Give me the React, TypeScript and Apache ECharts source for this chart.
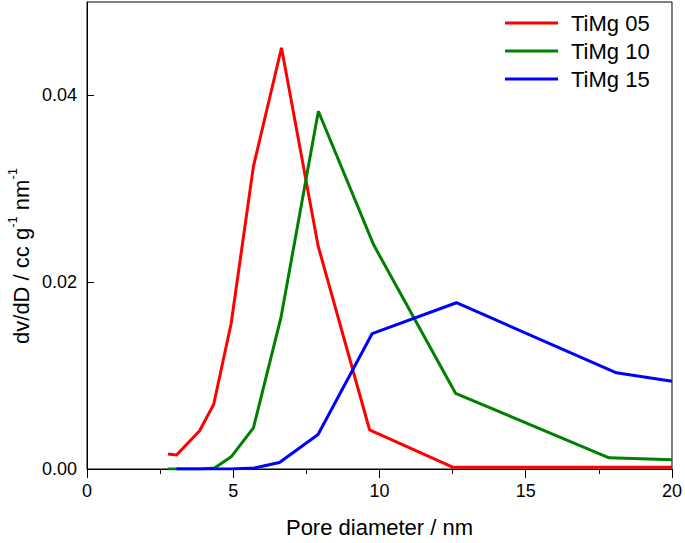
import React, { useEffect, useRef } from "react";
import * as echarts from "echarts";

const seriesNames = ["TiMg 05", "TiMg 10", "TiMg 15"];
const seriesColors = ["#ff0000", "#008000", "#0000ff"];

const redX = [2.77, 3.06, 3.85, 4.33, 4.93, 5.69, 6.65, 7.9, 9.66, 12.5, 18.0, 20.0];
const redY = [0.0016, 0.0015, 0.0041, 0.0069, 0.0156, 0.0324, 0.0451, 0.0239, 0.0042, 0.0002, 0.0002, 0.0002];

const greenX = [2.77, 3.06, 3.85, 4.36, 4.93, 5.69, 6.63, 7.91, 9.8, 12.6, 17.85, 20.0];
const greenY = [0, 0, 0, 0.0001, 0.0013, 0.0044, 0.0162, 0.0383, 0.024, 0.0081, 0.0012, 0.001];

const blueX = [3.06, 3.85, 4.36, 4.93, 5.72, 6.58, 7.9, 9.75, 12.63, 18.1, 20.0];
const blueY = [0, 0, 0, 0, 0.0001, 0.0007, 0.0037, 0.0145, 0.0178, 0.0103, 0.0094];

const xTicks = [0, 5, 10, 15, 20];
const yTickLabels = ["0.00", "0.02", "0.04"];

const pair = (xs: number[], ys: number[]) => xs.map((x, i) => [x, ys[i]]);

export default function App() {
  const ref = useRef<HTMLDivElement>(null);
  useEffect(() => {
    if (!ref.current) return;
    const chart = echarts.init(ref.current, null, { renderer: "svg" });
    const font = "Liberation Sans, Arial, sans-serif";
    const data = [pair(redX, redY), pair(greenX, greenY), pair(blueX, blueY)];
    chart.setOption({
      animation: false,
      backgroundColor: "#ffffff",
      textStyle: { fontFamily: font },
      grid: {
        left: 87,
        right: 11,
        top: 2,
        bottom: 69,
        show: true,
        borderColor: "#000",
        borderWidth: 1,
        backgroundColor: "transparent",
      },
      legend: {
        orient: "vertical",
        left: 505,
        top: 12,
        padding: 0,
        itemGap: 6,
        itemWidth: 53,
        itemHeight: 3,
        icon: "rect",
        data: seriesNames,
        textStyle: {
          fontFamily: font,
          fontSize: 22,
          color: "#000",
          lineHeight: 22,
          padding: [0, 0, 0, 8],
        },
      },
      graphic: [
        {
          type: "text",
          x: 19,
          y: 256,
          rotation: Math.PI / 2,
          style: {
            text: "{a|dv/dD / cc g}{s|-1}{a| nm}{s|-1}",
            align: "center",
            verticalAlign: "middle",
            fontFamily: font,
            fill: "#000",
            rich: {
              a: { fontFamily: font, fontSize: 22, fill: "#000", lineHeight: 26, verticalAlign: "bottom" },
              s: { fontFamily: font, fontSize: 13, fill: "#000", lineHeight: 26, verticalAlign: "top" },
            },
          },
        },
      ],
      xAxis: {
        type: "value",
        min: xTicks[0],
        max: xTicks[xTicks.length - 1],
        interval: 5,
        name: "Pore diameter / nm",
        nameLocation: "middle",
        nameGap: 47,
        nameTextStyle: { fontFamily: font, fontSize: 22, color: "#000" },
        axisLine: { show: true, onZero: false, lineStyle: { color: "#000", width: 1 } },
        axisTick: { show: true, inside: false, length: 9, lineStyle: { color: "#000" } },
        minorTick: { show: true, splitNumber: 2, length: 5, lineStyle: { color: "#000" } },
        splitLine: { show: false },
        axisLabel: { fontFamily: font, fontSize: 18, color: "#000", margin: 13 },
      },
      yAxis: {
        type: "value",
        min: 0,
        max: 0.05,
        interval: 0.02,
        axisLine: { show: true, onZero: false, lineStyle: { color: "#000", width: 1 } },
        axisTick: { show: true, inside: true, length: 7, lineStyle: { color: "#000" } },
        splitLine: { show: false },
        axisLabel: {
          fontFamily: font,
          fontSize: 18,
          color: "#000",
          margin: 10,
          showMaxLabel: false,
          formatter: (v: number) => {
            const idx = Math.round(v / 0.02);
            return Math.abs(v - idx * 0.02) < 1e-9 && idx < yTickLabels.length ? yTickLabels[idx] : "";
          },
        },
      },
      series: seriesNames.map((name, i) => ({
        name,
        type: "line",
        data: data[i],
        symbol: "none",
        color: seriesColors[i],
        lineStyle: { color: seriesColors[i], width: 3 },
        clip: true,
      })),
    });
    return () => chart.dispose();
  }, []);
  return (
    <div
      ref={ref}
      style={{ position: "fixed", left: 0, top: 0, width: 685, height: 543 }}
    />
  );
}
